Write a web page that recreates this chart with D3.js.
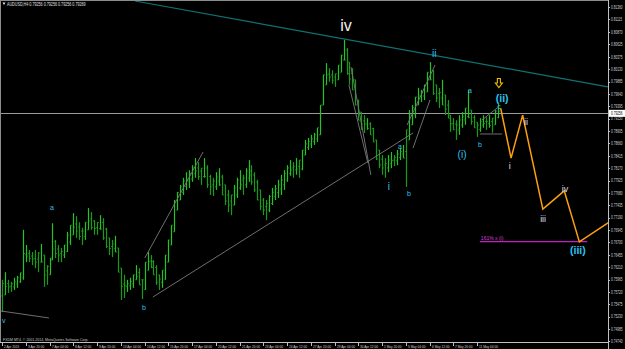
<!DOCTYPE html>
<html><head><meta charset="utf-8">
<script src="https://cdn.jsdelivr.net/npm/d3@7"></script>
<style>html,body{margin:0;padding:0;background:#000;overflow:hidden}</style>
</head><body><svg id="c" width="625" height="349"></svg>
<script>
// ---- data ----
const highs = [0.7596,0.7611,0.7596,0.7592,0.7600,0.7604,0.7610,0.7695,0.7665,0.7655,
0.7651,0.7655,0.7651,0.7667,0.7645,0.7625,0.7639,0.7708,0.7675,0.7665,
0.7659,0.7665,0.7691,0.7704,0.7728,0.7722,0.7710,0.7699,0.7710,0.7738,
0.7730,0.7714,0.7710,0.7724,0.7718,0.7699,0.7679,0.7675,0.7683,0.7659,
0.7619,0.7606,0.7596,0.7600,0.7606,0.7625,0.7619,0.7596,0.7631,0.7651,
0.7645,0.7635,0.7625,0.7606,0.7615,0.7645,0.7675,0.7704,0.7754,0.7770,
0.7784,0.7798,0.7809,0.7813,0.7823,0.7837,0.7829,0.7817,0.7837,0.7823,
0.7804,0.7798,0.7809,0.7817,0.7804,0.7784,0.7774,0.7764,0.7784,0.7798,
0.7813,0.7804,0.7817,0.7833,0.7823,0.7809,0.7794,0.7774,0.7758,0.7754,
0.7764,0.7778,0.7784,0.7794,0.7804,0.7813,0.7823,0.7833,0.7829,0.7837,
0.7833,0.7853,0.7873,0.7877,0.7883,0.7887,0.7897,0.7942,0.8002,0.8025,
0.8015,0.8011,0.8004,0.8021,0.8041,0.8071,0.8055,0.8027,0.8015,0.7992,
0.7952,0.7928,0.7922,0.7916,0.7908,0.7897,0.7873,0.7853,0.7843,0.7837,
0.7843,0.7849,0.7843,0.7853,0.7857,0.7863,0.7893,0.7932,0.7942,0.7958,
0.7976,0.7972,0.7982,0.8007,0.8027,0.8011,0.7982,0.7976,0.7992,0.7962,
0.7952,0.7922,0.7916,0.7912,0.7922,0.7928,0.7936,0.7972,0.7932,0.7922,
0.7908,0.7916,0.7922,0.7918,0.7922,0.7916,0.7932,0.7944];
const lows = [0.7532,0.7566,0.7570,0.7572,0.7576,0.7580,0.7590,0.7596,0.7631,0.7631,
0.7625,0.7619,0.7611,0.7631,0.7582,0.7586,0.7606,0.7635,0.7639,0.7631,
0.7631,0.7639,0.7651,0.7665,0.7685,0.7679,0.7675,0.7665,0.7675,0.7695,
0.7695,0.7685,0.7685,0.7695,0.7675,0.7659,0.7645,0.7641,0.7651,0.7611,
0.7556,0.7560,0.7572,0.7576,0.7580,0.7596,0.7586,0.7558,0.7576,0.7615,
0.7619,0.7606,0.7586,0.7576,0.7580,0.7596,0.7631,0.7665,0.7691,0.7734,
0.7754,0.7764,0.7774,0.7778,0.7790,0.7798,0.7794,0.7784,0.7798,0.7778,
0.7764,0.7762,0.7774,0.7782,0.7764,0.7744,0.7730,0.7724,0.7744,0.7758,
0.7774,0.7764,0.7778,0.7790,0.7784,0.7770,0.7754,0.7734,0.7724,0.7714,
0.7730,0.7744,0.7754,0.7758,0.7764,0.7774,0.7790,0.7802,0.7798,0.7804,
0.7798,0.7813,0.7843,0.7853,0.7857,0.7863,0.7869,0.7883,0.7942,0.7982,
0.7988,0.7984,0.7978,0.7992,0.8007,0.8031,0.8002,0.7982,0.7972,0.7942,
0.7912,0.7893,0.7887,0.7893,0.7883,0.7869,0.7833,0.7817,0.7804,0.7798,
0.7809,0.7817,0.7821,0.7823,0.7833,0.7837,0.7780,0.7873,0.7903,0.7916,
0.7942,0.7948,0.7952,0.7968,0.7992,0.7962,0.7948,0.7936,0.7942,0.7922,
0.7916,0.7889,0.7893,0.7873,0.7883,0.7897,0.7903,0.7916,0.7903,0.7897,
0.7879,0.7889,0.7897,0.7893,0.7897,0.7887,0.7903,0.7916];

const dateLabels = ["2 Apr 2015","3 Apr 20:00","7 Apr 04:00","8 Apr 12:00","9 Apr 20:00",
"13 Apr 04:00","14 Apr 12:00","15 Apr 20:00","17 Apr 04:00","20 Apr 12:00","21 Apr 20:00",
"23 Apr 04:00","24 Apr 12:00","27 Apr 20:00","29 Apr 04:00","30 Apr 12:00","1 May 20:00",
"5 May 04:00","6 May 12:00","7 May 20:00","11 May 04:00"];
const dateBars = [0,8,16,24,32,40,48,56,64,72,80,88,96,104,112,120,128,136,144,152,160];

const priceTicks = [0.81360,0.81115,0.80870,0.80625,0.80375,0.80130,0.79885,0.79640,0.79395,
0.79150,0.78905,0.78660,0.78415,0.78170,0.77925,0.77680,0.77435,0.77190,0.76945,0.76700,
0.76455,0.76210,0.75965,0.75720,0.75475,0.75230,0.74985,0.74740];
const currentPrice = 0.79256;
const headerText = "AUDUSD,H4  0.79256 0.79256 0.79256 0.79269";
const copyrightText = "FXDM MT4, \u00a9 2001-2014, MetaQuotes Software Corp.";

// projected wave path (bar index, price)
const projBars = [167.9,171.4,175.3,182.1,189.3,194.4,210];
const projPrices = [0.7936,0.7837,0.7922,0.7736,0.7772,0.7671,0.7732];

// long resistance line
const resistLine = [[44.8,0.8148],[204.0,0.7978]];
// grey helper lines [[bar,price],[bar,price]]
const greyLines = [
  [[-0.3,0.75342],[15.8,0.75204]],
  [[50.8,0.75619],[138.4,0.78867]],
  [[48.1,0.76392],[67.7,0.78490]],
  [[117.5,0.80173],[124.2,0.78035]],
  [[116.8,0.79817],[123.2,0.78273]],
  [[136.4,0.79025],[145.8,0.80213]],
  [[138.4,0.78570],[144.1,0.79520]],
  [[161.6,0.79124],[166.7,0.79362]],
  [[160.9,0.78847],[168.4,0.78847]]
];
const fibLine = [[160.9,0.76714],[197.0,0.76714]];
const fibText = "161% x (i)";

// wave labels
const waveText  = ["iv","ii","i","a","b","(i)","a","b","c","(ii)","i","ii","iii","iv","(iii)","a","b","v"];
const waveBar   = [115.8,145.5,130.3,134.0,137.0,154.9,157.6,160.9,167.3,168.4,171.0,176.4,182.2,189.6,193.9,16.8,47.8,0.6];
const wavePrice = [0.80886,0.80371,0.77738,0.7855,0.77619,0.78372,0.79659,0.78589,0.79342,0.7948,0.78154,0.79025,0.77104,0.77698,0.76471,0.77342,0.75362,0.75105];
const waveKind  = ["big","cyan","cyan","small","small","cyan","small","small","small","cyanb","grey","grey","grey","grey","cyanb","small","small","small"];
const arrowAt = [167.3,0.79857];

// ---- drawing ----
const W = 625, H = 349, plotR = 608, plotB = 342;
const svg = d3.select("#c");
svg.append("rect").attr("width",W).attr("height",H).attr("fill","#000");
const x = d3.scaleLinear().domain([0,168]).range([2, 2+2.97*168]);
const y = d3.scaleLinear().domain([0.8150, 0.8150-0.000198*plotB]).range([0, plotB]);

svg.append("clipPath").attr("id","clip").append("rect").attr("x",0).attr("y",0).attr("width",plotR).attr("height",plotB);
const g = svg.append("g").attr("clip-path","url(#clip)");

const ln = d3.line().x(d=>x(d[0])).y(d=>y(d[1]));

// resistance line
g.append("path").attr("d", ln(resistLine)).attr("stroke","#107272").attr("stroke-width",1.2).attr("fill","none");
// current price line
g.append("line").attr("x1",0).attr("x2",plotR).attr("y1",Math.round(y(currentPrice))+0.5).attr("y2",Math.round(y(currentPrice))+0.5)
  .attr("stroke","#9a9a9a").attr("stroke-width",1);

// bars (OHLC-style: open tick = previous bar mid, close tick = next bar mid)
const mids = highs.map((h,i)=>(h+lows[i])/2);
const clamp = (v,i)=>Math.max(lows[i],Math.min(highs[i],v));
const bx = i=>Math.round(x(i))+0.5;
g.selectAll("line.bar").data(highs).join("line").attr("class","bar")
  .attr("x1",(d,i)=>bx(i)).attr("x2",(d,i)=>bx(i))
  .attr("y1",d=>y(d)).attr("y2",(d,i)=>y(lows[i]))
  .attr("stroke",(d,i)=> (i>0 && mids[i]>=mids[i-1]) ? "#24c424" : "#169c16")
  .attr("stroke-width",1.2);
g.selectAll("line.op").data(highs).join("line").attr("class","op")
  .attr("x1",(d,i)=>bx(i)-1.2).attr("x2",(d,i)=>bx(i))
  .attr("y1",(d,i)=>y(clamp(i>0?mids[i-1]:mids[i],i))).attr("y2",(d,i)=>y(clamp(i>0?mids[i-1]:mids[i],i)))
  .attr("stroke","#1aae1a").attr("stroke-width",1);
g.selectAll("line.cl").data(highs).join("line").attr("class","cl")
  .attr("x1",(d,i)=>bx(i)).attr("x2",(d,i)=>bx(i)+1.2)
  .attr("y1",(d,i)=>y(clamp(i<highs.length-1?mids[i+1]:mids[i],i))).attr("y2",(d,i)=>y(clamp(i<highs.length-1?mids[i+1]:mids[i],i)))
  .attr("stroke","#1aae1a").attr("stroke-width",1);

// grey helper lines
greyLines.forEach(l=>{
  g.append("path").attr("d", ln(l)).attr("stroke","#7a7a7a").attr("stroke-width",0.9).attr("fill","none");
});
// fib line
g.append("path").attr("d", ln(fibLine)).attr("stroke","#c21ec2").attr("stroke-width",1.3).attr("fill","none");
g.append("text").attr("x",x(fibLine[0][0])+1).attr("y",y(fibLine[0][1])-2)
  .attr("font-family","Liberation Sans, Arial").attr("font-size",5).attr("fill","#d040d0").text(fibText);

// projection path
g.append("path").attr("d", d3.line().x((d,i)=>x(d)).y((d,i)=>y(projPrices[i]))(projBars))
  .attr("stroke","#ffa010").attr("stroke-width",1.5).attr("fill","none").attr("stroke-linejoin","miter");

// wave labels
const styles = {
  big:{size:16,color:"#f0f0f0",weight:"normal"},
  cyan:{size:10,color:"#2cc4f0",weight:"normal"},
  cyanb:{size:10.5,color:"#2cc4f0",weight:"bold"},
  small:{size:7,color:"#2cc4f0",weight:"normal"},
  grey:{size:9,color:"#dcdcee",weight:"normal"}
};
waveText.forEach((t,i)=>{
  const s = styles[waveKind[i]];
  g.append("text").attr("x",x(waveBar[i])).attr("y",y(wavePrice[i])).attr("text-anchor","middle")
    .attr("font-family","Liberation Sans, Arial").attr("font-size",s.size).attr("font-weight",s.weight)
    .attr("fill",s.color).text(t);
});
// yellow hollow arrow
{
  const ax = x(arrowAt[0]), ay = y(arrowAt[1]);
  const pts = [[-1.5,-4.5],[1.5,-4.5],[1.5,0],[3.5,0],[0,4.5],[-3.5,0],[-1.5,0]];
  g.append("path").attr("d", d3.line()(pts.map(p=>[ax+p[0],ay+p[1]]))+"Z")
    .attr("fill","none").attr("stroke","#f0c000").attr("stroke-width",1.1);
}

// frame & axes
const axisCol = "#c0c0c0";
svg.append("rect").attr("x",0.5).attr("y",0.5).attr("width",plotR).attr("height",plotB)
  .attr("fill","none").attr("stroke","#8c8c8c").attr("stroke-width",1);
svg.append("line").attr("x1",plotR+0.5).attr("x2",plotR+0.5).attr("y1",0).attr("y2",H).attr("stroke",axisCol);
svg.append("line").attr("x1",0).attr("x2",plotR).attr("y1",plotB+0.5).attr("y2",plotB+0.5).attr("stroke",axisCol);

// narrow text helper: scaled horizontally via transform
function narrowText(parent, tx, ty, sx, size, fill, str){
  parent.append("g").attr("transform",`translate(${tx},${ty}) scale(${sx},1)`)
    .append("text").attr("x",0).attr("y",0).attr("font-family","Liberation Sans, Arial")
    .attr("font-size",size).attr("fill",fill).text(str);
}

// price labels
priceTicks.forEach(p=>{
  const yy = y(p);
  svg.append("line").attr("x1",plotR).attr("x2",plotR+2).attr("y1",Math.round(yy)+0.5).attr("y2",Math.round(yy)+0.5).attr("stroke",axisCol);
  narrowText(svg, 611, yy+1.8, 0.64, 5, "#d0d0d0", p.toFixed(5));
});
// current price box
{
  const yy = y(currentPrice);
  svg.append("rect").attr("x",609).attr("y",yy-3.5).attr("width",16).attr("height",7).attr("fill","#ffffff");
  narrowText(svg, 611, yy+1.8, 0.64, 5, "#000", currentPrice.toFixed(5));
}
// date labels
dateLabels.forEach((t,k)=>{
  const xx = Math.round(x(dateBars[k]))+0.5;
  svg.append("line").attr("x1",xx).attr("x2",xx).attr("y1",plotB).attr("y2",plotB+4).attr("stroke",axisCol);
  narrowText(svg, xx+1.5, 347.5, 0.72, 4.4, "#d0d0d0", t);
});

// header & copyright
svg.append("path").attr("d","M2.5,2.5 L5.5,2.5 L4,5 Z").attr("fill","#e0e0e0");
narrowText(svg, 7, 5.6, 0.82, 4.5, "#e0e0e0", headerText);
narrowText(svg, 3, 340.6, 0.88, 4, "#c8c8c8", copyrightText);
</script>
</body></html>
